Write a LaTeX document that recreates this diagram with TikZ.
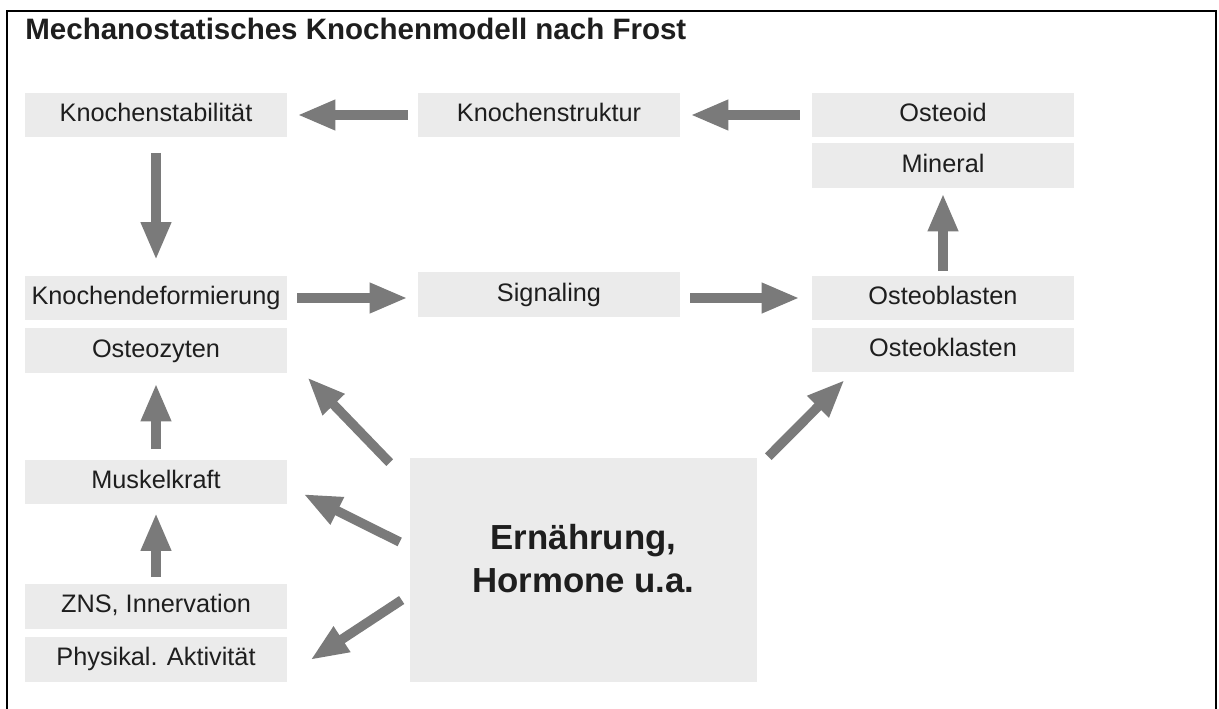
\documentclass[tikz,border=0pt]{standalone}
\usepackage{fontspec}
\setmainfont{Liberation Sans}
\usetikzlibrary{arrows.meta,calc}
\definecolor{boxgray}{HTML}{EBEBEB}
\definecolor{arrowgray}{HTML}{7A7A7A}
\definecolor{textdark}{HTML}{1E1E1E}

\begin{document}
\begin{tikzpicture}[x=0.02cm,y=-0.02cm,
    box/.style={fill=boxgray, text=textdark, minimum width=5.24cm, minimum height=0.9cm,
        inner sep=0pt, text height=1.0em, text depth=0.21em, font=\fontsize{14.4}{17}\selectfont},
    bigarrow/.style={draw=arrowgray, line width=0.19cm,
        -{Triangle[length=0.76cm,width=0.56cm]}},
    hgap/.style={shorten <=0.2cm, shorten >=0.2cm}]
    \useasboundingbox (0,0) rectangle (1219,709);

    % Frame and title
    \draw[line width=0.05cm] (7,709) -- (7,11) -- (1216,11) -- (1216,709);
    \node[anchor=base west, inner sep=0pt, text=textdark,
        font=\bfseries\fontsize{16.8}{20}\selectfont] (title) at (25,40)
        {Mechanostatisches Knochenmodell nach Frost};

    % Top row
    \node[box] (stab) at (156,115) {Knochenstabilität};
    \node[box] (struk) at (549,115) {Knochenstruktur};
    \node[box] (osteoid) at (943,115) {Osteoid};
    \node[box] (mineral) at (943,165.5) {Mineral};

    % Middle row
    \node[box] (deform) at (156,298) {Knochendeformierung};
    \node[box] (ozyt) at (156,350.5) {Osteozyten};
    \node[box] (signal) at (549,294.5) {Signaling};
    \node[box] (oblast) at (943,298) {Osteoblasten};
    \node[box] (oklast) at (943,350) {Osteoklasten};

    % Bottom left column
    \node[box] (muskel) at (156,482) {Muskelkraft};
    \node[box] (zns) at (156,606) {ZNS, Innervation};
    \node[box] (phys) at (156,659) {Physikal. Aktivität};

    % Ernaehrung, Hormone
    \node[fill=boxgray, minimum width=6.94cm, minimum height=4.48cm, inner sep=0pt]
        (ern) at (583.5,570) {};
    \node[align=center, text=textdark, inner sep=0pt,
        font=\bfseries\fontsize{19.8}{24.5}\selectfont] (ernlabel) at (583.5,559)
        {Ernährung,\\Hormone u.a.};

    % Arrows along the loop
    \draw[bigarrow, hgap] (struk.west) -- (stab.east);
    \draw[bigarrow, shorten <=0.24cm, shorten >=0.2cm] (osteoid.west) -- (struk.east);
    \draw[bigarrow, shorten <=0.3cm, shorten >=0.3cm] (stab.south) -- (deform.north);
    \draw[bigarrow, hgap] (deform.east) -- (deform.east -| signal.west);
    \draw[bigarrow, shorten <=0.2cm, shorten >=0.24cm] (signal.east |- oblast.west) -- (oblast.west);
    \draw[bigarrow, shorten <=0.08cm, shorten >=0.1cm] (oblast.north) -- (mineral.south);

    % Arrows in the left column
    \draw[bigarrow, shorten <=0.2cm, shorten >=0.2cm] (muskel.north) -- (ozyt.south);
    \draw[bigarrow, shorten <=0.12cm, shorten >=0.16cm] (zns.north) -- (muskel.south);

    % Arrows out of Ernaehrung
    \draw[bigarrow] ($(ern.north west)+(-20,5)$) -- ($(ozyt.south east)+(20,4)$);
    \draw[bigarrow] ($(ern.west)+(-10,-28)$) -- ($(muskel.east)+(16,12)$);
    \draw[bigarrow] ($(ern.west)+(-8,30)$) -- ($(phys.east)+(23,1)$);
    \draw[bigarrow] ($(ern.north east)+(11,-1)$) -- ($(oklast.south west)+(33,7)$);
\end{tikzpicture}
\end{document}
